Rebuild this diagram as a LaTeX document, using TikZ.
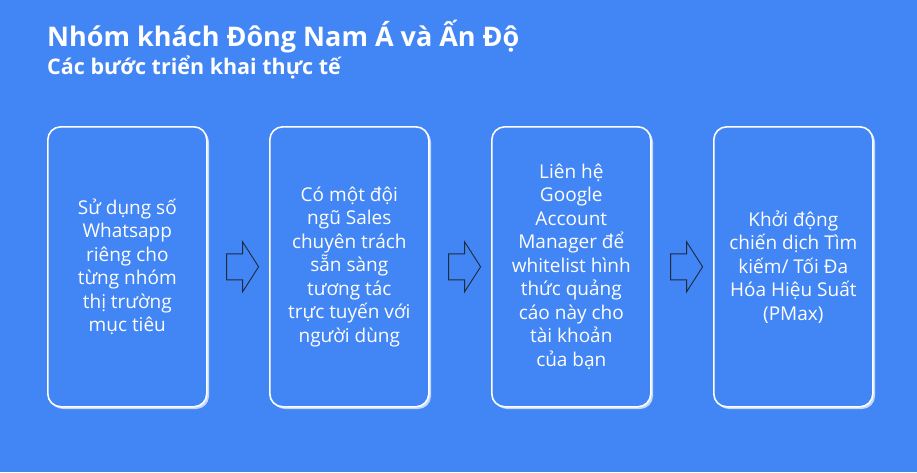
\documentclass[tikz,border=0pt]{standalone}
\usepackage{fontspec}
\setmainfont{Open Sans}
\usetikzlibrary{calc}
\definecolor{bgblue}{HTML}{4285F4}
\definecolor{shadowblue}{HTML}{C3D8FB}
\definecolor{arrowline}{HTML}{1F2A3C}
\tikzset{
  stepbox/.style={draw=white, line width=1.6pt, fill=bgblue, rounded corners=13pt,
    minimum width=159pt, minimum height=280pt, anchor=north west, inner sep=0pt},
  boxshadow/.style={fill=shadowblue, rounded corners=13pt, draw=none},
  steptext/.style={text=white, align=center, font=\fontsize{19}{23.5}\selectfont},
  flowarrow/.style={draw=arrowline, line width=0.9pt, line join=miter, fill=none},
}
\begin{document}
\begin{tikzpicture}[x=1pt,y=-1pt]
\fill[bgblue] (0,0) rectangle (917,472);
\useasboundingbox (0,0) rectangle (917,472);
\node[anchor=base west, text=white, font=\fontsize{27}{32}\bfseries\selectfont, inner sep=0pt] (title) at (47,46) {Nhóm khách Đông Nam Á và Ấn Độ};
\node[anchor=base west, text=white, font=\fontsize{21.5}{25}\bfseries\selectfont, inner sep=0pt] (subtitle) at (47,74) {Các bước triển khai thực tế};
\foreach \i/\x in {1/47,2/269,3/491,4/713}{
  \fill[boxshadow] (\x+3,129) rectangle (\x+162,409);
  \node[stepbox] (b\i) at (\x,126) {};
}
\node[steptext] (t1) at (b1.center) {Sử dụng số\\Whatsapp\\riêng cho\\từng nhóm\\thị trường\\mục tiêu};
\node[steptext] (t2) at (b2.center) {Có một đội\\ngũ Sales\\chuyên trách\\sẵn sàng\\tương tác\\trực tuyến với\\người dùng};
\node[steptext] (t3) at (b3.center) {Liên hệ\\Google\\Account\\Manager để\\whitelist hình\\thức quảng\\cáo này cho\\tài khoản\\của bạn};
\node[steptext] (t4) at (b4.center) {Khởi động\\chiến dịch Tìm\\kiếm/ Tối Đa\\Hóa Hiệu Suất\\(PMax)};
\foreach \a/\b in {1/2,2/3,3/4}{
  \coordinate (s\a) at ($(b\a.east)+(19,0)$);
  \draw[flowarrow] ($(s\a)+(0,-13)$) -- ++(16,0) -- ++(0,-12) -- ++(16,25) -- ++(-16,25) -- ++(0,-12) -- ++(-16,0) -- cycle;
}
\end{tikzpicture}
\end{document}
